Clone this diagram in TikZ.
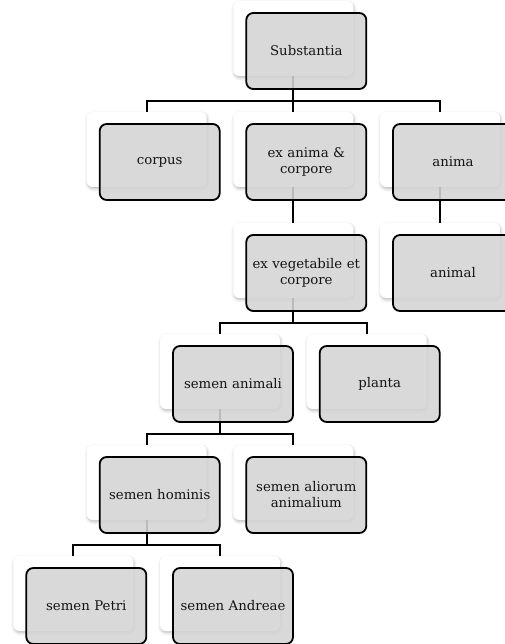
\documentclass[tikz,border=0pt]{standalone}
\usepackage{fontspec}
\setmainfont{DejaVu Serif}
\usetikzlibrary{shadows.blur}
\definecolor{boxgray}{RGB}{212,212,212}
\definecolor{textc}{RGB}{20,20,20}
\begin{document}
\begin{tikzpicture}[x=1pt,y=-1pt,
  card/.style={draw=none, fill=white, rounded corners=6pt, minimum width=120pt, minimum height=75pt, inner sep=0pt,
    blur shadow={shadow xshift=0.8pt, shadow yshift=-1.8pt, shadow blur radius=3pt, shadow opacity=28}},
  gbox/.style={draw=black, line width=1.8pt, fill=boxgray, fill opacity=0.88, text opacity=1, draw opacity=1,
    rounded corners=7pt, minimum width=120pt, minimum height=76pt, inner sep=0pt, text width=116pt, align=center,
    font=\fontsize{13.3}{16}\selectfont, text=textc},
  link/.style={draw=black, line width=1.8pt}]
\useasboundingbox (0,0) rectangle (505,644);
\clip (0,0) rectangle (505,644);
% white cards
\node[card] (sub) at (293.3,38.5) {};
\node[card] (cor) at (146.7,149.5) {};
\node[card] (exa) at (293.3,149.5) {};
\node[card] (ani) at (440,149.5) {};
\node[card] (exv) at (293.3,260.5) {};
\node[card] (anl) at (440,260.5) {};
\node[card] (sea) at (220,371.5) {};
\node[card] (pla) at (366.7,371.5) {};
\node[card] (seh) at (146.7,482.5) {};
\node[card] (sel) at (293.3,482.5) {};
\node[card] (pet) at (73.3,593.5) {};
\node[card] (and) at (220,593.5) {};
% connectors
\draw[link] (sub.south) -- ++(0,25) -| (cor.north);
\draw[link] (sub.south) -- ++(0,25) -| (ani.north);
\draw[link] (sub.south) -- (exa.north);
\draw[link] (exa.south) -- (exv.north);
\draw[link] (ani.south) -- (anl.north);
\draw[link] (exv.south) -- ++(0,25) -| (sea.north);
\draw[link] (exv.south) -- ++(0,25) -| (pla.north);
\draw[link] (sea.south) -- ++(0,25) -| (seh.north);
\draw[link] (sea.south) -- ++(0,25) -| (sel.north);
\draw[link] (seh.south) -- ++(0,25) -| (pet.north);
\draw[link] (seh.south) -- ++(0,25) -| (and.north);
% grey boxes
\node[gbox] (subg) at (306.3,51) {Substantia};
\node[gbox] (corg) at (159.7,162) {corpus};
\node[gbox] (exag) at (306.3,162) {ex anima \&\\corpore};
\node[gbox] (anig) at (453,162) {anima};
\node[gbox] (exvg) at (306.3,273) {ex vegetabile et\\corpore};
\node[gbox] (anlg) at (453,273) {animal};
\node[gbox] (seag) at (233,384) {semen animali};
\node[gbox] (plag) at (379.7,384) {planta};
\node[gbox] (sehg) at (159.7,495) {semen hominis};
\node[gbox] (selg) at (306.3,495) {semen aliorum\\animalium};
\node[gbox] (petg) at (86.3,606) {semen Petri};
\node[gbox] (andg) at (233,606) {semen Andreae};
\end{tikzpicture}
\end{document}
